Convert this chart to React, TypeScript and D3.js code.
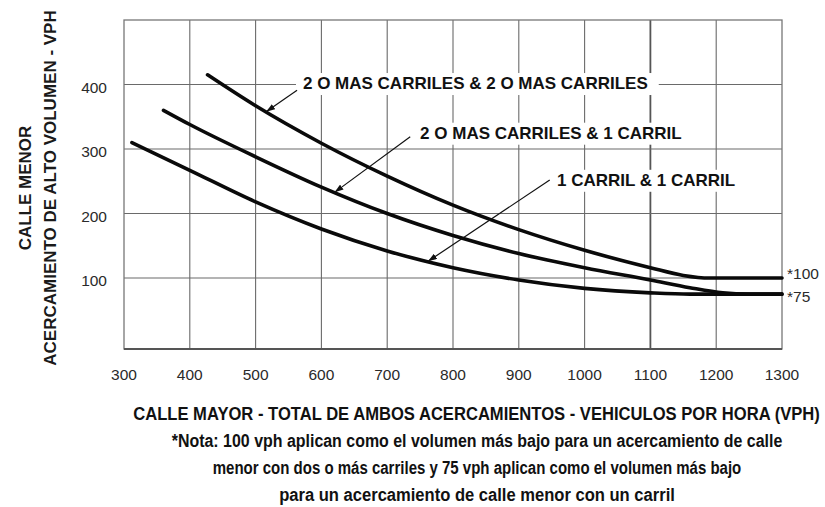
import React, { useEffect, useRef } from 'react';
import * as d3 from 'd3';

const W = 825;
const H = 507;

// axes
const xTicks = [300, 400, 500, 600, 700, 800, 900, 1000, 1100, 1200, 1300];
const yTicks = [100, 200, 300, 400];

// curves (major street vph, minor street vph)
const twoPlusTwoPlus: [number, number][] = [
  [427, 415], [500, 367], [600, 309], [700, 258], [800, 213], [900, 175],
  [1000, 143], [1100, 116], [1150, 104], [1190, 100], [1300, 100],
];
const twoPlusOne: [number, number][] = [
  [360, 360], [400, 338], [500, 288], [600, 241], [700, 200], [800, 166],
  [900, 138], [1000, 116], [1100, 97], [1160, 85], [1210, 77], [1250, 75], [1300, 75],
];
const oneOne: [number, number][] = [
  [312, 310], [400, 267], [500, 218], [600, 176], [700, 142], [800, 116],
  [900, 97], [1000, 84], [1100, 77], [1160, 75], [1300, 75],
];

const seriesNames = [
  '2 O MAS CARRILES & 2 O MAS CARRILES',
  '2 O MAS CARRILES & 1 CARRIL',
  '1 CARRIL & 1 CARRIL',
];
// leader start, label position (data units) and where the arrow hits the curve
const leaderStarts: [number, number][] = [[563, 391], [735, 319], [947, 252]];
const labelPositions: [number, number][] = [[572, 393], [750, 316], [958, 243]];
const arrowTipX = [516, 620, 762];

const floorValues = [100, 75];
const floorLabels = ['*100', '*75'];

const yTitle = ['CALLE MENOR', 'ACERCAMIENTO DE ALTO VOLUMEN - VPH'];
const xTitle = 'CALLE MAYOR - TOTAL DE AMBOS ACERCAMIENTOS - VEHICULOS POR HORA (VPH)';
const noteLines = [
  '*Nota: 100 vph aplican como el volumen más bajo para un acercamiento de calle',
  'menor con dos o más carriles y 75 vph aplican como el volumen más bajo',
  'para un acercamiento de calle menor con un carril',
];
const bottomWidths = [687, 611, 529, 396];

const SANS = "'Liberation Sans', Arial, sans-serif";

const App: React.FC = () => {
  const svgRef = useRef<SVGSVGElement>(null);

  useEffect(() => {
    if (!svgRef.current) return;
    const svg = d3.select(svgRef.current);
    svg.selectAll('*').remove();

    const x = d3.scaleLinear().domain([300, 1300]).range([124, 782]);
    const y = d3.scaleLinear().domain([-10, 500]).range([349, 20]);

    svg.append('rect').attr('width', W).attr('height', H).attr('fill', '#fff');

    svg.append('defs').append('marker')
      .attr('id', 'arrow')
      .attr('markerUnits', 'userSpaceOnUse')
      .attr('markerWidth', 9)
      .attr('markerHeight', 6)
      .attr('refX', 9)
      .attr('refY', 3)
      .attr('orient', 'auto')
      .append('path')
      .attr('d', 'M0,0 L9,3 L0,6 Z')
      .attr('fill', '#111');

    // grid
    const grid = svg.append('g');
    grid.selectAll('.vline')
      .data(xTicks.slice(1, -1))
      .enter()
      .append('line')
      .attr('x1', (d) => x(d)).attr('x2', (d) => x(d))
      .attr('y1', y(500)).attr('y2', y(-10))
      .attr('stroke', (d) => (d === 1100 ? '#555' : '#6a6a6a'))
      .attr('stroke-width', (d) => (d === 1100 ? 1.8 : 1.1));
    grid.selectAll('.hline')
      .data(yTicks)
      .enter()
      .append('line')
      .attr('x1', x(300)).attr('x2', x(1300))
      .attr('y1', (d) => y(d)).attr('y2', (d) => y(d))
      .attr('stroke', '#6a6a6a')
      .attr('stroke-width', 1.1);

    // frame
    svg.append('rect')
      .attr('x', x(300)).attr('y', y(500))
      .attr('width', x(1300) - x(300)).attr('height', y(-10) - y(500))
      .attr('fill', 'none').attr('stroke', '#777').attr('stroke-width', 1.3);
    svg.append('line')
      .attr('x1', x(300)).attr('x2', x(1300))
      .attr('y1', y(-10)).attr('y2', y(-10))
      .attr('stroke', '#555').attr('stroke-width', 2.2);

    // tick labels
    svg.selectAll('.xt')
      .data(xTicks)
      .enter()
      .append('text')
      .attr('x', (d) => x(d))
      .attr('y', 380)
      .attr('text-anchor', 'middle')
      .attr('font-family', SANS)
      .attr('font-size', 15.5)
      .attr('fill', '#2a2a2a')
      .text((d) => d);
    svg.selectAll('.yt')
      .data(yTicks)
      .enter()
      .append('text')
      .attr('x', 107)
      .attr('y', (d) => y(d) + 8)
      .attr('text-anchor', 'end')
      .attr('font-family', SANS)
      .attr('font-size', 15.5)
      .attr('fill', '#2a2a2a')
      .text((d) => d);

    // curve labels with white backing
    const labels = svg.append('g');
    seriesNames.forEach((name, i) => {
      const [lx, ly] = labelPositions[i];
      const t = labels.append('text')
        .attr('x', x(lx))
        .attr('y', y(ly))
        .attr('font-family', SANS)
        .attr('font-weight', 'bold')
        .attr('font-size', 17)
        .attr('fill', '#111')
        .text(name);
      const b = (t.node() as SVGTextElement).getBBox();
      labels.insert('rect', 'text')
        .attr('x', b.x - 7).attr('y', b.y - 1)
        .attr('width', b.width + 18).attr('height', b.height + 3)
        .attr('fill', '#fff');
    });

    // curves
    const series = [twoPlusTwoPlus, twoPlusOne, oneOne];
    const line = d3.line<[number, number]>()
      .x((d) => x(d[0]))
      .y((d) => y(d[1]))
      .curve(d3.curveMonotoneX);
    svg.selectAll('.curve')
      .data(series)
      .enter()
      .append('path')
      .attr('d', (d) => line(d))
      .attr('fill', 'none')
      .attr('stroke', '#0a0a0a')
      .attr('stroke-width', 3.6)
      .attr('stroke-linecap', 'round');

    // leaders
    const valueAt = (s: [number, number][], xv: number) => {
      const i = d3.bisector((d: [number, number]) => d[0]).left(s, xv);
      const a = s[Math.max(0, i - 1)];
      const b = s[Math.min(s.length - 1, i)];
      if (a[0] === b[0]) return a[1];
      return a[1] + ((b[1] - a[1]) * (xv - a[0])) / (b[0] - a[0]);
    };
    leaderStarts.forEach((st, i) => {
      const tx = arrowTipX[i];
      const ty = valueAt(series[i], tx);
      svg.append('line')
        .attr('x1', x(st[0])).attr('y1', y(st[1]))
        .attr('x2', x(tx)).attr('y2', y(ty))
        .attr('stroke', '#111')
        .attr('stroke-width', 1.2)
        .attr('marker-end', 'url(#arrow)');
    });

    // floor values at right edge
    svg.selectAll('.floor')
      .data(floorValues)
      .enter()
      .append('text')
      .attr('x', 787)
      .attr('y', (d, i) => y(d) + (i === 0 ? 1 : 8))
      .attr('font-family', SANS)
      .attr('font-size', 15.5)
      .attr('fill', '#2a2a2a')
      .text((d, i) => floorLabels[i]);

    // y title
    yTitle.forEach((s, i) => {
      svg.append('text')
        .attr('transform', `translate(${i === 0 ? 31 : 56},188) rotate(-90)`)
        .attr('text-anchor', 'middle')
        .attr('font-family', SANS)
        .attr('font-weight', 'bold')
        .attr('font-size', 17)
        .attr('fill', '#1a1a1a')
        .text(s);
    });

    // x title and note: condensed bold, squeezed to the widths in the figure
    const bottomLines = [xTitle, ...noteLines];
    bottomLines.forEach((s, i) => {
      const baseY = i === 0 ? 420 : 447 + (i - 1) * 27;
      const cx = i === 0 ? 476.5 : 477;
      const g = svg.append('g');
      const t = g.append('text')
        .attr('text-anchor', 'middle')
        .attr('font-family', SANS)
        .attr('font-weight', 'bold')
        .attr('font-size', 19)
        .attr('fill', '#111')
        .text(s);
      const natural = (t.node() as SVGTextElement).getComputedTextLength() || bottomWidths[i];
      const k = bottomWidths[i] / natural;
      g.attr('transform', `translate(${cx},${baseY}) scale(${k},1)`);
    });
  }, []);

  return (
    <svg
      ref={svgRef}
      width={W}
      height={H}
      style={{ position: 'absolute', left: 0, top: 0, display: 'block' }}
    />
  );
};

export default App;
